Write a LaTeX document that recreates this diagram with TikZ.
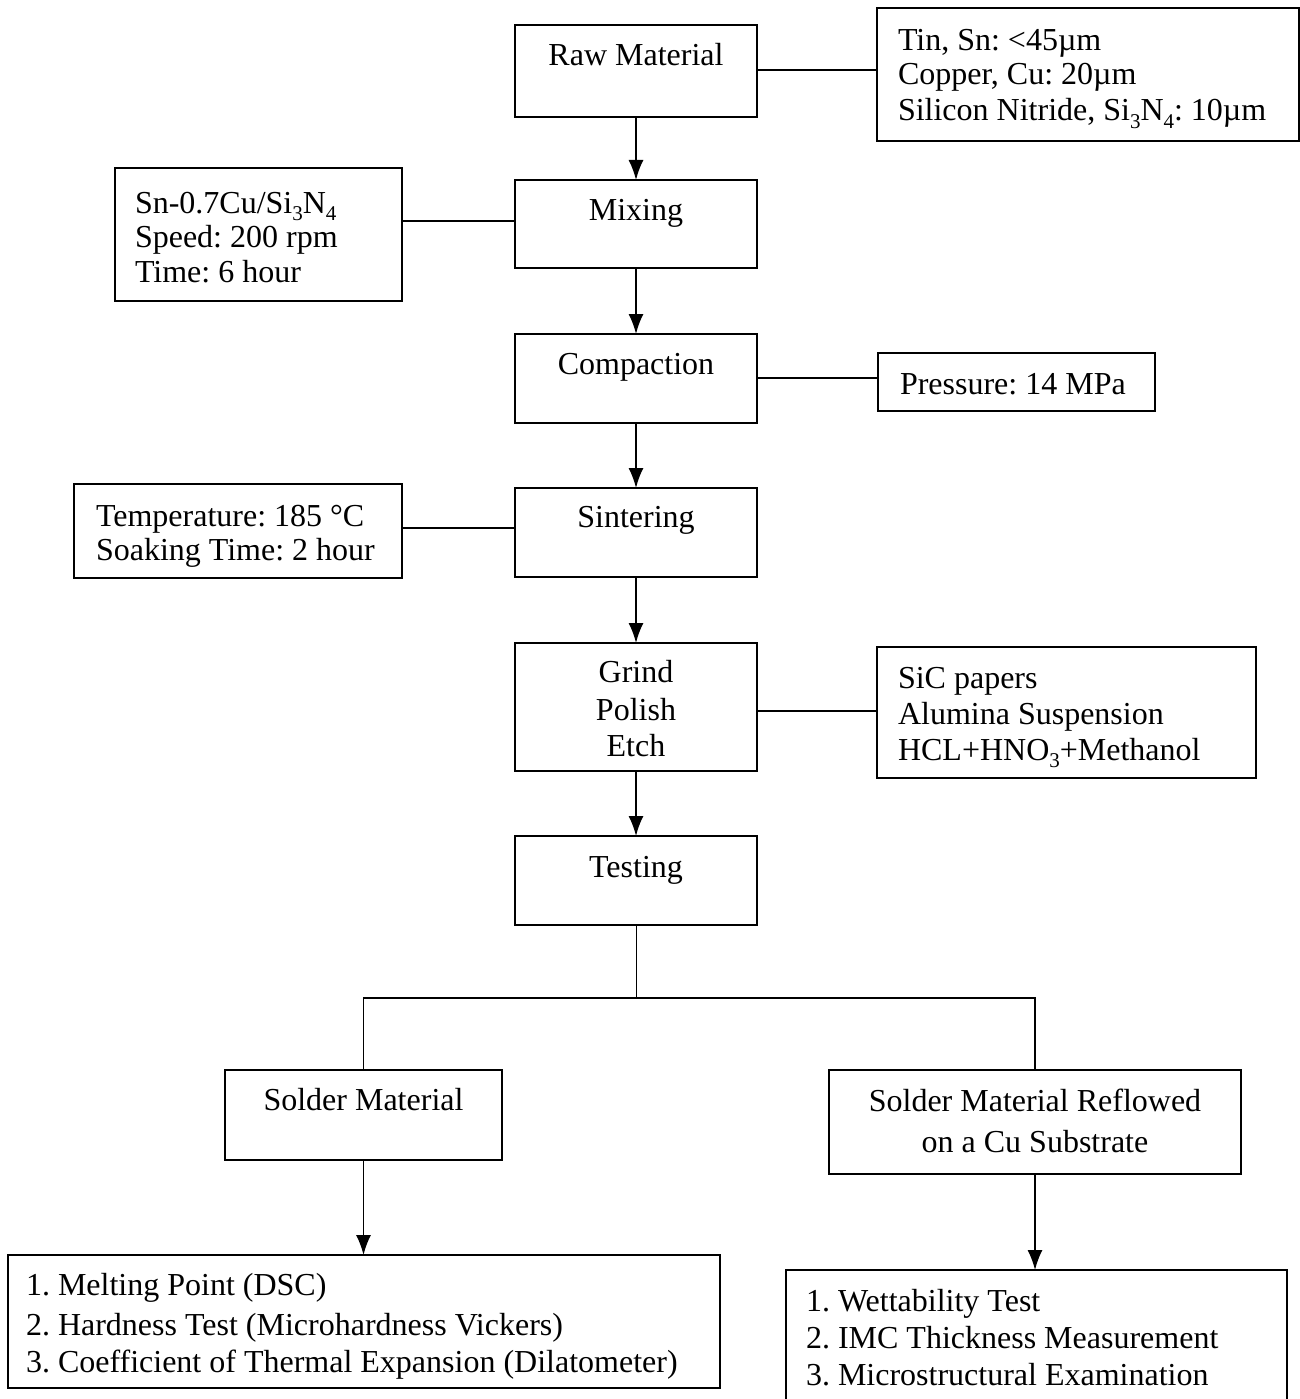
\documentclass[tikz,border=0pt]{standalone}
\usepackage{fontspec}
\setmainfont{Liberation Serif}
\usetikzlibrary{arrows.meta}
\frenchspacing
\newcommand{\mysub}[1]{\raisebox{-0.22em}{\fontsize{21}{21}\selectfont #1}}
\begin{document}
\begin{tikzpicture}[x=1pt,y=-1pt,
  box/.style={draw, line width=1.5pt, inner sep=0pt, outer sep=0pt},
  txt/.style={inner sep=0pt, outer sep=0pt, font=\fontsize{32}{36}\selectfont},
  link/.style={line width=1.8pt},
  arr/.style={line width=1.6pt, -{Latex[length=20pt,width=15pt]}},
  thin/.style={line width=1pt}]
\path[use as bounding box, fill=white] (0,0) rectangle (1300,1399);

% process boxes
\node[box, minimum width=242pt, minimum height=92pt] (raw) at (636,71) {};
\node[box, minimum width=242pt, minimum height=88pt] (mix) at (636,224) {};
\node[box, minimum width=242pt, minimum height=89pt] (comp) at (636,378.5) {};
\node[box, minimum width=242pt, minimum height=89pt] (sint) at (636,532.5) {};
\node[box, minimum width=242pt, minimum height=128pt] (grind) at (636,707) {};
\node[box, minimum width=242pt, minimum height=89pt] (test) at (636,880.5) {};
\node[box, minimum width=277pt, minimum height=90pt] (solder) at (363.5,1115) {};
\node[box, minimum width=412pt, minimum height=104pt] (reflow) at (1035,1122) {};

% info boxes
\node[box, minimum width=422pt, minimum height=133pt] (rawinfo) at (1088,74.5) {};
\node[box, minimum width=287pt, minimum height=133pt] (mixinfo) at (258.5,234.5) {};
\node[box, minimum width=277pt, minimum height=58pt] (compinfo) at (1016.5,382) {};
\node[box, minimum width=328pt, minimum height=94pt] (sintinfo) at (238,531) {};
\node[box, minimum width=379pt, minimum height=131pt] (grindinfo) at (1066.5,712.5) {};
\node[box, minimum width=712pt, minimum height=133pt] (meas1) at (364,1321.5) {};
\node[box, minimum width=501pt, minimum height=132pt] (meas2) at (1036.5,1336) {};

% texts in process boxes
\node[txt, anchor=base] (rawt) at (636,66) {Raw Material};
\node[txt, anchor=base] (mixt) at (636,220) {Mixing};
\node[txt, anchor=base] (compt) at (636,374) {Compaction};
\node[txt, anchor=base] (sintt) at (636,527) {Sintering};
\node[txt, anchor=base] (grindt1) at (636,682) {Grind};
\node[txt, anchor=base] (grindt2) at (636,720) {Polish};
\node[txt, anchor=base] (grindt3) at (636,756) {Etch};
\node[txt, anchor=base] (testt) at (636,877) {Testing};
\node[txt, anchor=base] (soldert) at (363.5,1110) {Solder Material};
\node[txt, anchor=base] (reflowt1) at (1035,1111) {Solder Material Reflowed};
\node[txt, anchor=base] (reflowt2) at (1035,1152) {on a Cu Substrate};

% texts in info boxes
\node[txt, anchor=base west] (ri1) at (898,51) {Tin, Sn: <45µm};
\node[txt, anchor=base west] (ri2) at (898,85) {Copper, Cu: 20µm};
\node[txt, anchor=base west] (ri3) at (898,121) {Silicon Nitride, Si\mysub{3}N\mysub{4}: 10µm};

\node[txt, anchor=base west] (mi1) at (135,213) {Sn-0.7Cu/Si\mysub{3}N\mysub{4}};
\node[txt, anchor=base west] (mi2) at (135,247) {Speed: 200 rpm};
\node[txt, anchor=base west] (mi3) at (135,282) {Time: 6 hour};

\node[txt, anchor=base west] (ci1) at (900,394) {Pressure: 14 MPa};

\node[txt, anchor=base west] (si1) at (96,526) {Temperature: 185 °C};
\node[txt, anchor=base west] (si2) at (96,560) {Soaking Time: 2 hour};

\node[txt, anchor=base west] (gi1) at (898,688) {SiC papers};
\node[txt, anchor=base west] (gi2) at (898,724) {Alumina Suspension};
\node[txt, anchor=base west] (gi3) at (898,760) {HCL+HNO\mysub{3}+Methanol};

\node[txt, anchor=base west] (m11) at (26,1295) {1. Melting Point (DSC)};
\node[txt, anchor=base west] (m12) at (26,1335) {2. Hardness Test (Microhardness Vickers)};
\node[txt, anchor=base west] (m13) at (26,1372) {3. Coefficient of Thermal Expansion (Dilatometer)};

\node[txt, anchor=base west] (m21) at (806,1311) {1. Wettability Test};
\node[txt, anchor=base west] (m22) at (806,1348) {2. IMC Thickness Measurement};
\node[txt, anchor=base west] (m23) at (806,1385) {3. Microstructural Examination};

% main flow arrows
\draw[arr] (raw.south) -- (mix.north);
\draw[arr] (mix.south) -- (comp.north);
\draw[arr] (comp.south) -- (sint.north);
\draw[arr] (sint.south) -- (grind.north);
\draw[arr] (grind.south) -- (test.north);

% side links
\draw[link] ([yshift=1pt]raw.east) -- ([yshift=1pt]raw.east -| rawinfo.west);
\draw[link] ([yshift=3pt]mix.west) -- ([yshift=3pt]mix.west -| mixinfo.east);
\draw[link] ([yshift=0.5pt]comp.east) -- ([yshift=0.5pt]comp.east -| compinfo.west);
\draw[link] ([yshift=4.5pt]sint.west) -- ([yshift=4.5pt]sint.west -| sintinfo.east);
\draw[link] ([yshift=-4pt]grind.east) -- ([yshift=-4pt]grind.east -| grindinfo.west);

% branch
\coordinate (split) at (636,998);
\draw[thin] (test.south) -- (split);
\draw[link] (solder.north) |- (split) -| (reflow.north);

% lower arrows
\draw[arr] (solder.south) -- (solder.south |- meas1.north);
\draw[arr] (reflow.south) -- (reflow.south |- meas2.north);
\end{tikzpicture}
\end{document}
